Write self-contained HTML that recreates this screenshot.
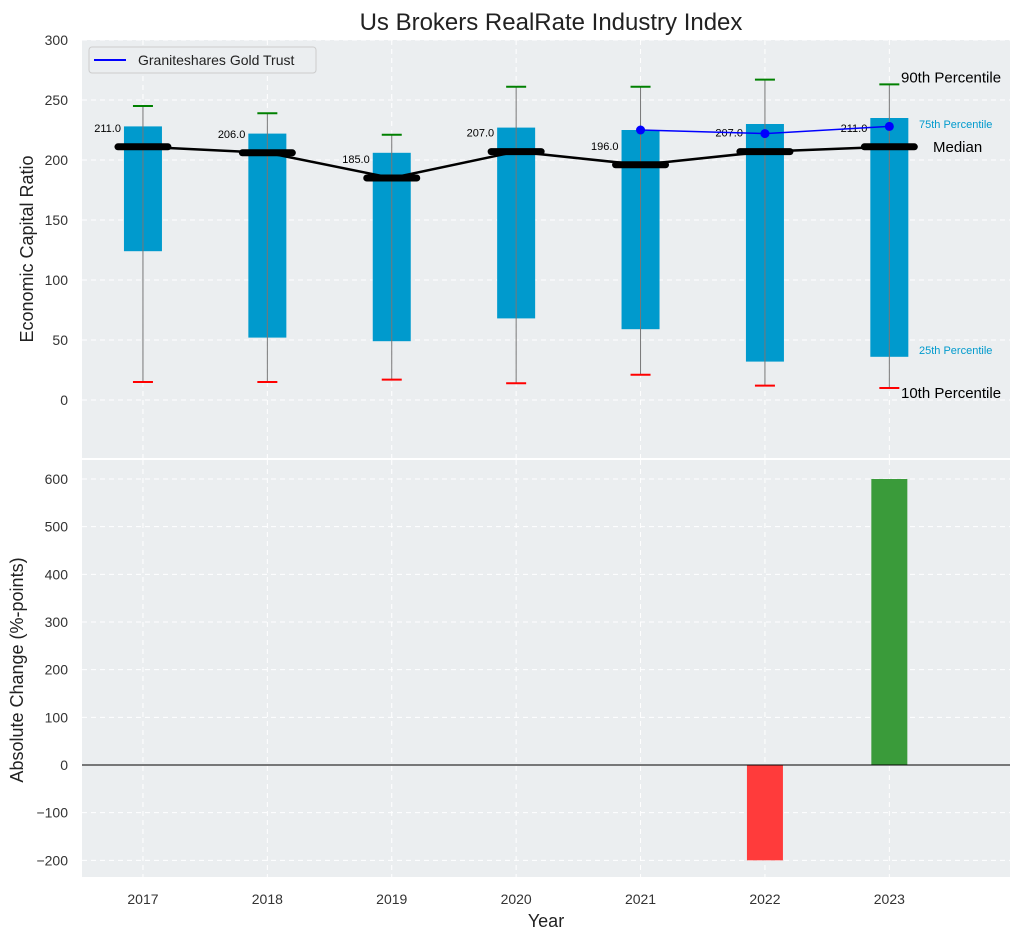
<!DOCTYPE html>
<html><head><meta charset="utf-8"><style>
body{margin:0;background:#fff;font-family:"Liberation Sans",sans-serif}
svg text{font-family:"Liberation Sans",sans-serif}
</style></head><body>
<svg id="c" width="1021" height="940" xmlns="http://www.w3.org/2000/svg"></svg>
<script>
const years=[2017,2018,2019,2020,2021,2022,2023];
const p10=[15,15,17,14,21,12,10];
const p25=[124,52,49,68,59,32,36];
const med=[211,206,185,207,196,207,211];
const p75=[228,222,206,227,225,230,235];
const p90=[245,239,221,261,261,267,263];
const goldYears=[2021,2022,2023];
const goldVals=[225,222,228];
const chgYears=[2022,2023];
const chgVals=[-200,600];
const topTicks=[0,50,100,150,200,250,300];
const botTicks=[-200,-100,0,100,200,300,400,500,600];

const NS='http://www.w3.org/2000/svg';
const svg=document.getElementById('c');
function el(t,a,txt,p){const e=document.createElementNS(NS,t);for(const k in a)e.setAttribute(k,a[k]);if(txt!=null)e.textContent=txt;(p||svg).appendChild(e);return e;}
const L=82,R=1010;
const x=v=>L+(v-2016.51)/(2023.97-2016.51)*(R-L);
const T0=40,T1=458; const yT=v=>400-v*1.2;
const B0=460,B1=877; const yB=v=>765-v*(286/600);

let t=el('text',{x:551,y:30,'text-anchor':'middle','font-size':24,fill:'#222'},'Us Brokers RealRate Industry Index');


let bg=el('rect',{x:L,y:T0,width:R-L,height:T1-T0,fill:'#ebeef0'});

bg=el('rect',{x:L,y:B0,width:R-L,height:B1-B0,fill:'#ebeef0'});


years.forEach(yr=>{
 el('line',{x1:x(yr),x2:x(yr),y1:T0,y2:T1,stroke:'#fff','stroke-dasharray':'5,4','stroke-width':1});
 el('line',{x1:x(yr),x2:x(yr),y1:B0,y2:B1,stroke:'#fff','stroke-dasharray':'5,4','stroke-width':1});
 let tl=el('text',{x:x(yr),y:904,'text-anchor':'middle','font-size':14,fill:'#333'},yr);
 
});
topTicks.forEach(v=>{
 el('line',{x1:L,x2:R,y1:yT(v),y2:yT(v),stroke:'#fff','stroke-dasharray':'5,4'});
 let tl=el('text',{x:68,y:yT(v)+5,'text-anchor':'end','font-size':14,fill:'#333'},v);
 
});
botTicks.forEach(v=>{
 el('line',{x1:L,x2:R,y1:yB(v),y2:yB(v),stroke:'#fff','stroke-dasharray':'5,4'});
 let tl=el('text',{x:68,y:yB(v)+5,'text-anchor':'end','font-size':14,fill:'#333'},v<0?'\u2212'+(-v):v);
 
});

years.forEach((yr,i)=>{
 const cx=x(yr);
 let b=el('rect',{x:cx-19,y:yT(p75[i]),width:38,height:yT(p25[i])-yT(p75[i]),fill:'#009acd'});
 
 let w=el('line',{x1:cx,x2:cx,y1:yT(p90[i]),y2:yT(p10[i]),stroke:'#777','stroke-width':1});
 
 let c1=el('line',{x1:cx-10,x2:cx+10,y1:yT(p90[i]),y2:yT(p90[i]),stroke:'green','stroke-width':2});
 
 let c2=el('line',{x1:cx-10,x2:cx+10,y1:yT(p10[i]),y2:yT(p10[i]),stroke:'red','stroke-width':2});
 
});
let ml=el('polyline',{points:years.map((yr,i)=>x(yr)+','+yT(med[i])).join(' '),fill:'none',stroke:'#000','stroke-width':2.5});

years.forEach((yr,i)=>{
 const cx=x(yr);
 let m=el('line',{x1:cx-25,x2:cx+25,y1:yT(med[i]),y2:yT(med[i]),stroke:'#000','stroke-width':7,'stroke-linecap':'round'});
 
 let lb=el('text',{x:cx-22,y:yT(med[i])-15,'text-anchor':'end','font-size':11,fill:'#000'},med[i].toFixed(1));
 
});
let gl=el('polyline',{points:goldYears.map((yr,i)=>x(yr)+','+yT(goldVals[i])).join(' '),fill:'none',stroke:'#0000ff','stroke-width':1.5});

goldYears.forEach((yr,i)=>{
 let d=el('circle',{cx:x(yr),cy:yT(goldVals[i]),r:4.5,fill:'#0000ff'});
 
});
const li=6;
[['90th Percentile',901,yT(p90[li])-2,15,'#000'],['75th Percentile',919,yT(p75[li])+10,11,'#009acd'],['Median',933,yT(med[li])+5,15,'#000'],['25th Percentile',919,yT(p25[li])-3,11,'#009acd'],['10th Percentile',901,yT(p10[li])+10,15,'#000']].forEach(a=>{
 let e=el('text',{x:a[1],y:a[2],'font-size':a[3],fill:a[4]},a[0]);
 
});
let lg=el('g',{});
el('rect',{x:89,y:47,width:227,height:26,rx:3,fill:'#ebeef0',stroke:'#ccc'},null,lg);
el('line',{x1:94,x2:126,y1:60,y2:60,stroke:'#0000ff','stroke-width':2},null,lg);
el('text',{x:138,y:65,'font-size':14,fill:'#222'},'Graniteshares Gold Trust',lg);

chgYears.forEach((yr,i)=>{
 const v=chgVals[i];
 let b=el('rect',{x:x(yr)-18,y:Math.min(yB(v),yB(0)),width:36,height:Math.abs(yB(v)-yB(0)),fill:v<0?'#ff3b3b':'#3a9b3a'});
 
});
let zl=el('line',{x1:L,x2:R,y1:yB(0),y2:yB(0),stroke:'#000','stroke-width':1});


let a1=el('text',{x:33,y:249,'text-anchor':'middle','font-size':18,fill:'#222',transform:'rotate(-90 33 249)'},'Economic Capital Ratio');

let a2=el('text',{x:23,y:670,'text-anchor':'middle','font-size':18,fill:'#222',transform:'rotate(-90 23 670)'},'Absolute Change (%-points)');

let a3=el('text',{x:546,y:927,'text-anchor':'middle','font-size':18,fill:'#222'},'Year');

</script>
</body></html>
